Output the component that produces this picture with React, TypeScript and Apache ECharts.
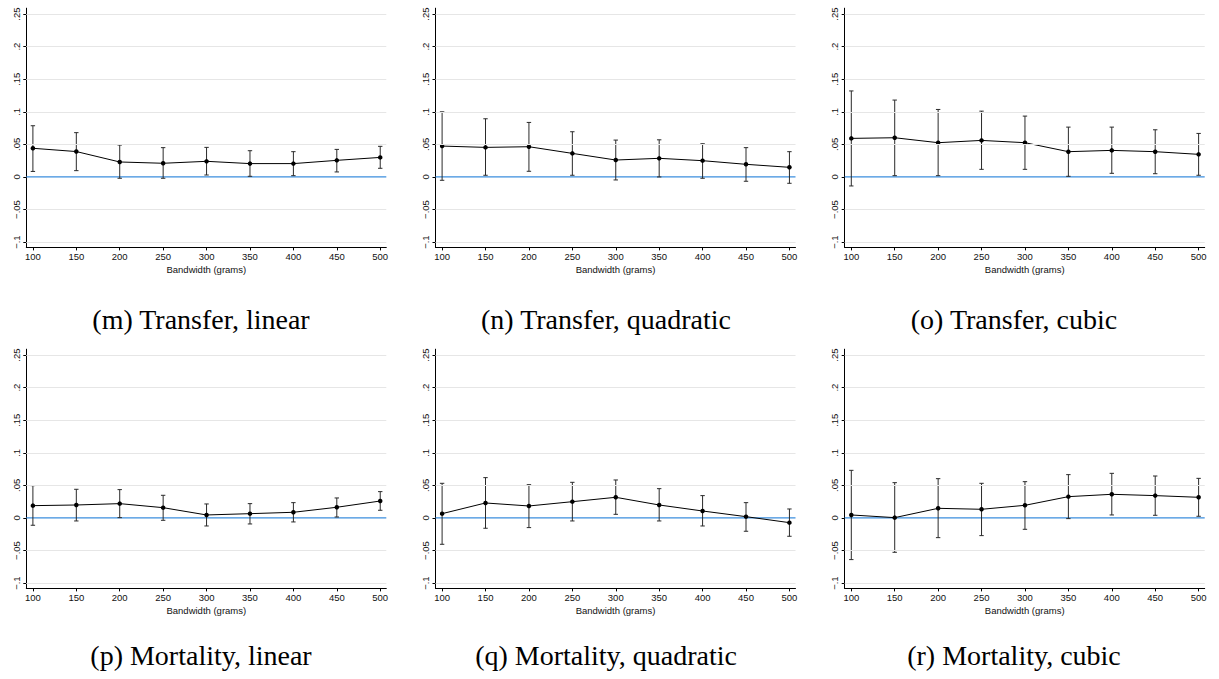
import React, { useEffect, useRef } from "react";
import * as echarts from "echarts";

// ---------- data ----------
const bandwidths = [100, 150, 200, 250, 300, 350, 400, 450, 500];
const yTicks = [-0.1, -0.05, 0, 0.05, 0.1, 0.15, 0.2, 0.25];
const yTickLabels = ["−.1", "−.05", "0", ".05", ".1", ".15", ".2", ".25"];
const referenceValue = 0;
const xAxisTitle = "Bandwidth (grams)";
const captions = [
  "(m) Transfer, linear",
  "(n) Transfer, quadratic",
  "(o) Transfer, cubic",
  "(p) Mortality, linear",
  "(q) Mortality, quadratic",
  "(r) Mortality, cubic",
];

const transferLinearEst = [0.044, 0.039, 0.023, 0.021, 0.024, 0.0205, 0.0205, 0.0255, 0.030];
const transferLinearLo = [0.0085, 0.0097, -0.002, -0.002, 0.003, 0.001, 0.002, 0.0077, 0.0133];
const transferLinearHi = [0.0786, 0.068, 0.049, 0.045, 0.0454, 0.0403, 0.0388, 0.0423, 0.047];

const transferQuadEst = [0.0474, 0.0454, 0.0464, 0.0362, 0.026, 0.0286, 0.025, 0.0194, 0.0148];
const transferQuadLo = [-0.0051, 0.0026, 0.0087, 0.0026, -0.0046, 0.0, -0.002, -0.0066, -0.0097];
const transferQuadHi = [0.1, 0.0893, 0.0837, 0.0694, 0.0566, 0.057, 0.051, 0.045, 0.0388];

const transferCubicEst = [0.0592, 0.0602, 0.0526, 0.0561, 0.0526, 0.0388, 0.0408, 0.0388, 0.0347];
const transferCubicLo = [-0.0138, 0.002, 0.002, 0.0117, 0.0117, 0.001, 0.0056, 0.005, 0.0026];
const transferCubicHi = [0.132, 0.118, 0.1036, 0.101, 0.0934, 0.0765, 0.0765, 0.0724, 0.0668];

const mortalityLinearEst = [0.0189, 0.0199, 0.022, 0.0158, 0.0046, 0.0066, 0.0087, 0.0164, 0.026];
const mortalityLinearLo = [-0.0112, -0.0046, 0.0005, -0.0036, -0.0123, -0.0092, -0.0061, 0.0015, 0.0118];
const mortalityLinearHi = [0.0496, 0.044, 0.0435, 0.0348, 0.0215, 0.022, 0.0235, 0.0307, 0.0404];

const mortalityQuadEst = [0.0066, 0.023, 0.0184, 0.025, 0.0317, 0.0199, 0.0107, 0.002, -0.0072];
const mortalityQuadLo = [-0.0404, -0.0158, -0.0148, -0.0046, 0.0056, -0.0046, -0.0123, -0.0204, -0.0281];
const mortalityQuadHi = [0.0532, 0.0619, 0.0511, 0.0547, 0.0583, 0.045, 0.0343, 0.0235, 0.0138];

const mortalityCubicEst = [0.0046, 0.0005, 0.0148, 0.0133, 0.0194, 0.0327, 0.0363, 0.0343, 0.0317];
const mortalityCubicLo = [-0.0639, -0.0527, -0.0302, -0.0271, -0.0174, -0.001, 0.0046, 0.0041, 0.0026];
const mortalityCubicHi = [0.0731, 0.0542, 0.0603, 0.0532, 0.0557, 0.0665, 0.0685, 0.0644, 0.0608];

const panelEst = [transferLinearEst, transferQuadEst, transferCubicEst, mortalityLinearEst, mortalityQuadEst, mortalityCubicEst];
const panelLo = [transferLinearLo, transferQuadLo, transferCubicLo, mortalityLinearLo, mortalityQuadLo, mortalityCubicLo];
const panelHi = [transferLinearHi, transferQuadHi, transferCubicHi, mortalityLinearHi, mortalityQuadHi, mortalityCubicHi];

// ---------- layout ----------
const W = 1219;
const H = 679;
const colLeft = [26.3, 435.5, 844.7];
const rowTop = [8.2, 349.2];
const gridW = 360;
const gridH = 239.2;
const xMin = 92.4;
const xMax = 507;
const yMin = -0.1081;
const yMax = 0.259;
const captionX = [201, 606, 1014];
const captionY = [319, 655];

const labelFont = "'Liberation Sans', Arial, Helvetica, sans-serif";
const captionFont = "'Liberation Serif', 'DejaVu Serif', serif";

function yLabel(v: number): string {
  let best = 0;
  let bd = Infinity;
  yTicks.forEach((t, i) => {
    const d = Math.abs(t - v);
    if (d < bd) {
      bd = d;
      best = i;
    }
  });
  return yTickLabels[best];
}

export default function App() {
  const ref = useRef<HTMLDivElement>(null);
  useEffect(() => {
    if (!ref.current) return;
    const chart = echarts.init(ref.current, undefined, { renderer: "svg", width: W, height: H });
    const grids: any[] = [];
    const xAxes: any[] = [];
    const yAxes: any[] = [];
    const series: any[] = [];
    for (let p = 0; p < 6; p++) {
      const r = Math.floor(p / 3);
      const c = p % 3;
      grids.push({ left: colLeft[c], top: rowTop[r], width: gridW, height: gridH, containLabel: false });
      xAxes.push({
        type: "value",
        gridIndex: p,
        min: xMin,
        max: xMax,
        axisLine: { show: true, onZero: false, lineStyle: { color: "#000", width: 1 } },
        axisTick: { show: true, length: 3, customValues: bandwidths, lineStyle: { color: "#000" } },
        axisLabel: {
          customValues: bandwidths,
          fontFamily: labelFont,
          fontSize: 9.5,
          color: "#111",
          margin: 4,
        },
        splitLine: { show: false },
        name: xAxisTitle,
        nameLocation: "middle",
        nameGap: 17,
        nameTextStyle: { fontFamily: labelFont, fontSize: 9.5, color: "#111", verticalAlign: "top" },
      });
      yAxes.push({
        type: "value",
        gridIndex: p,
        min: yMin,
        max: yMax,
        axisLine: { show: true, onZero: false, lineStyle: { color: "#000", width: 1 } },
        axisTick: { show: true, length: 3, customValues: yTicks, lineStyle: { color: "#000" } },
        axisLabel: {
          customValues: yTicks,
          rotate: 90,
          fontFamily: labelFont,
          fontSize: 9.5,
          color: "#111",
          margin: 5,
          formatter: (v: number) => yLabel(v),
        },
        splitLine: { show: false },
      });
      const est = panelEst[p];
      const lo = panelLo[p];
      const hi = panelHi[p];
      // gridlines (background)
      series.push({
        type: "line",
        xAxisIndex: p,
        yAxisIndex: p,
        data: [],
        z: 1,
        silent: true,
        markLine: {
          silent: true,
          symbol: ["none", "none"],
          label: { show: false },
          lineStyle: { color: "#e6e6e6", width: 1.2, type: "solid" },
          data: yTicks.filter((t) => t !== referenceValue).map((t) => ({ yAxis: t })),
        },
      });
      // zero reference line
      series.push({
        type: "line",
        xAxisIndex: p,
        yAxisIndex: p,
        z: 2,
        silent: true,
        symbol: "none",
        data: [
          [xMin, referenceValue],
          [xMax, referenceValue],
        ],
        lineStyle: { color: "#3b8ede", width: 1.2 },
        itemStyle: { color: "#3b8ede" },
      });
      // error bars
      series.push({
        type: "custom",
        xAxisIndex: p,
        yAxisIndex: p,
        z: 3,
        silent: true,
        data: bandwidths.map((b, i) => [b, lo[i], hi[i]]),
        encode: { x: 0, y: [1, 2] },
        renderItem: (params: any, api: any) => {
          const x = api.value(0);
          const pLo = api.coord([x, api.value(1)]);
          const pHi = api.coord([x, api.value(2)]);
          const cap = 2.2;
          const style = { stroke: "#2a2a2a", lineWidth: 1, fill: "none" };
          return {
            type: "group",
            children: [
              { type: "line", shape: { x1: pLo[0], y1: pLo[1], x2: pHi[0], y2: pHi[1] }, style },
              { type: "line", shape: { x1: pLo[0] - cap, y1: pLo[1], x2: pLo[0] + cap, y2: pLo[1] }, style },
              { type: "line", shape: { x1: pHi[0] - cap, y1: pHi[1], x2: pHi[0] + cap, y2: pHi[1] }, style },
            ],
          };
        },
      });
      // estimates
      series.push({
        type: "line",
        xAxisIndex: p,
        yAxisIndex: p,
        z: 4,
        data: bandwidths.map((b, i) => [b, est[i]]),
        symbol: "circle",
        symbolSize: 4.5,
        itemStyle: { color: "#000" },
        lineStyle: { color: "#000", width: 1 },
      });
    }
    const graphicEls = captions.map((t, p) => {
      const r = Math.floor(p / 3);
      const c = p % 3;
      return {
        type: "text",
        x: captionX[c],
        y: captionY[r],
        style: {
          text: t,
          fontFamily: captionFont,
          fontSize: 28,
          fill: "#000",
          textAlign: "center",
          textVerticalAlign: "middle",
        },
      };
    });
    chart.setOption({
      animation: false,
      backgroundColor: "#fff",
      grid: grids,
      xAxis: xAxes,
      yAxis: yAxes,
      series,
      graphic: graphicEls,
    });
    return () => chart.dispose();
  }, []);
  return (
    <div
      ref={ref}
      style={{ position: "absolute", left: 0, top: 0, width: W, height: H, background: "#fff" }}
    />
  );
}
